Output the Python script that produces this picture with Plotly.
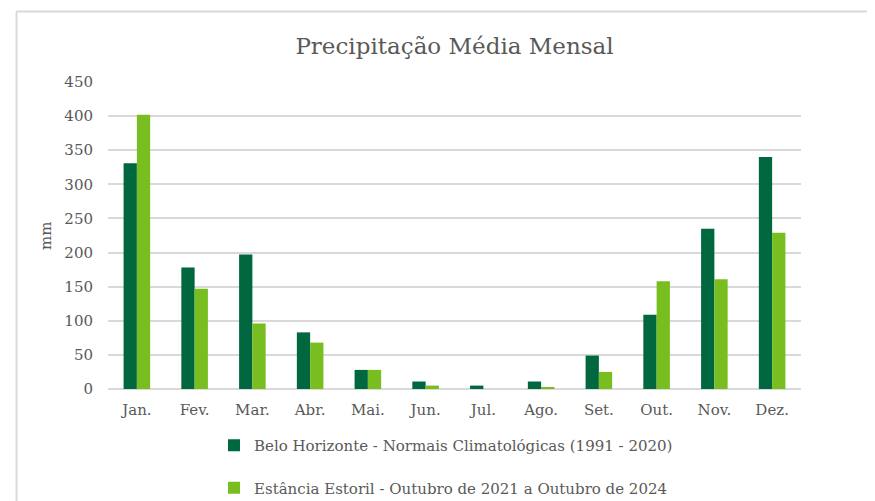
import plotly.graph_objects as go

months = ["Jan.", "Fev.", "Mar.", "Abr.", "Mai.", "Jun.", "Jul.", "Ago.", "Set.", "Out.", "Nov.", "Dez."]
bh_normais = [331, 178, 197, 83, 28, 11, 5, 11, 49, 109, 235, 340]
estoril = [402, 147, 96, 68, 28, 5, 0, 3, 25, 158, 161, 229]
series_names = [
    "Belo Horizonte - Normais Climatológicas (1991 - 2020)",
    "Estância Estoril - Outubro de 2021 a Outubro de 2024",
]
y_ticks = [0, 50, 100, 150, 200, 250, 300, 350, 400, 450]
y_title = "mm"
chart_title = "Precipitação Média Mensal"

FONT = "DejaVu Serif"
GREY = "#595959"

fig = go.Figure()
fig.add_trace(go.Bar(x=months, y=bh_normais, name=series_names[0], marker_color="#00673F",
                     marker_line_width=0, legendgroup="a"))
fig.add_trace(go.Bar(x=months, y=estoril, name=series_names[1], marker_color="#78BE21",
                     marker_line_width=0, legendgroup="b"))

OFF = 8  # page body margin offset
W, H = 875 - OFF, 501 - OFF
L, T = 108 - OFF, 82 - OFF
R = W - (801 - OFF)
B = H - (389 - OFF)
PW, PH = W - L - R, H - T - B


def px_x(px):
    return (px - OFF - L) / PW


def px_y(py):
    return (H - B - (py - OFF)) / PH


fig.update_layout(
    width=W, height=H,
    margin=dict(l=L, r=R, t=T, b=B, autoexpand=False),
    paper_bgcolor="white", plot_bgcolor="white",
    barmode="group", bargap=0.54, bargroupgap=0,
    font=dict(family=FONT, color=GREY, size=15),
    title=dict(text=chart_title, x=0.5, xanchor="center", xref="paper",
               y=1 - (46 - OFF) / H, yanchor="middle", yref="container",
               font=dict(family=FONT, size=23, color=GREY)),
    xaxis=dict(showgrid=False, showline=False, ticks="", tickfont=dict(size=15, color=GREY),
               ticklabelstandoff=10),
    yaxis=dict(range=[0, 450], tickvals=y_ticks, showgrid=True, gridcolor="#D9D9D9", gridwidth=1.5,
               zeroline=True, zerolinecolor="#D9D9D9", zerolinewidth=1.5, ticks="",
               tickfont=dict(size=15, color=GREY), ticklabelstandoff=14),
    legend=dict(orientation="v", x=(214 - OFF) / W, xanchor="left", xref="container",
                y=1 - (429 - OFF) / H, yanchor="top", yref="container",
                font=dict(size=15, color=GREY), tracegroupgap=20,
                itemwidth=30, bgcolor="rgba(0,0,0,0)"),
    showlegend=True,
    annotations=[
        dict(text=y_title, xref="paper", yref="paper", x=px_x(46), y=px_y(236),
             xanchor="center", yanchor="middle", textangle=-90, showarrow=False,
             font=dict(family=FONT, size=15, color=GREY)),
    ],
    shapes=[
        dict(type="line", xref="paper", yref="paper",
             x0=px_x(16), x1=px_x(880), y0=px_y(11.5), y1=px_y(11.5),
             line=dict(color="#D9D9D9", width=2)),
        dict(type="line", xref="paper", yref="paper",
             x0=px_x(16.5), x1=px_x(16.5), y0=px_y(11.5), y1=px_y(510),
             line=dict(color="#D9D9D9", width=2)),
    ],
)

fig.write_html("out.html")
